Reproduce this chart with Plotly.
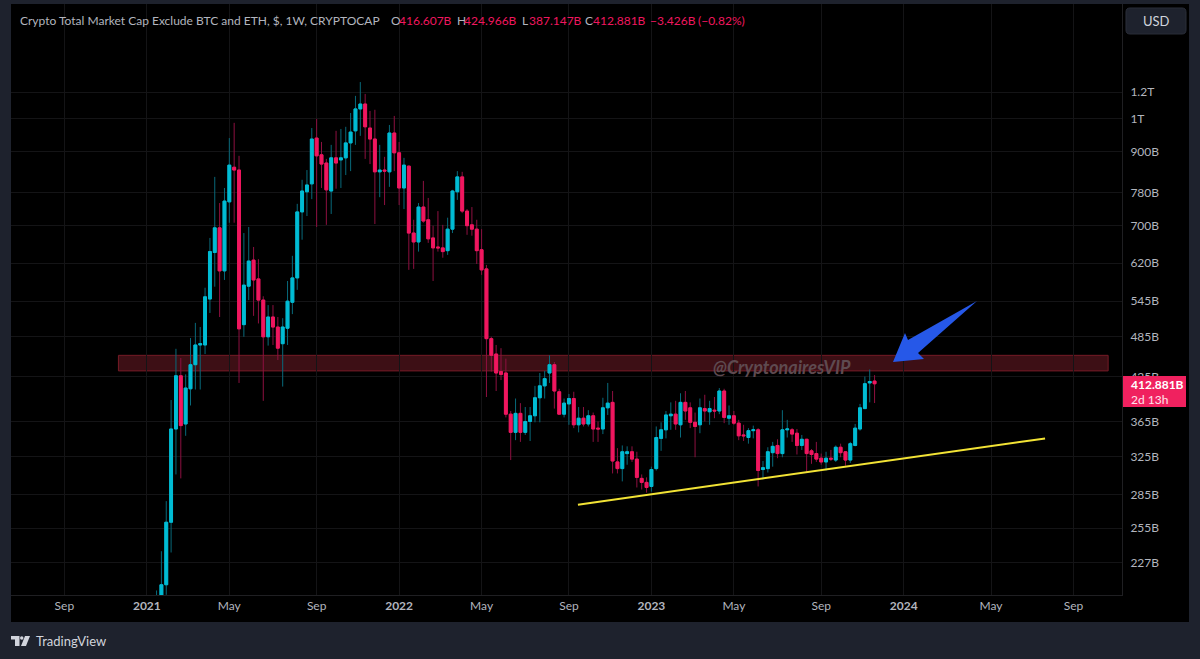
import pandas as pd
import plotly.graph_objects as go

# weekly candles, values in billions
open_b = [192,203,211,260,355,424,361,406,440,470,
          470,548,640,695,602,758,851,843,503,572,
          624,586,546,483,516,499,472,497,542,588,
          733,784,805,938,887,863,786,878,872,878,
          923,961,1034,1051,970,935,838,843,838,954,
          893,794,854,683,663,745,714,672,652,650,
          644,692,784,824,735,702,692,646,606,480,
          456,430,428,373,351,374,351,364,371,394,
          410,428,440,402,373,386,393,360,368,361,
          371,356,355,381,388,318,311,327,329,321,
          301,297,293,311,344,354,371,373,360,388,
          381,363,360,380,376,378,377,403,368,371,
          362,348,345,353,354,310,311,328,336,327,
          354,354,350,336,343,330,327,322,318,322,
          320,334,329,320,336,355,380,414,416.607]
close_b = [203,211,260,355,424,359,407,440,470,472,
           552,642,695,602,760,857,843,496,574,622,
           584,546,483,516,499,465,499,544,588,733,
           786,802,935,884,860,789,878,863,878,923,
           957,1034,1051,974,935,838,843,840,954,893,
           794,857,683,663,745,711,670,650,650,642,
           692,786,824,735,700,692,644,604,480,454,
           428,426,373,351,374,351,364,371,394,410,
           420,440,403,373,387,393,360,368,361,371,
           355,355,381,387,319,311,329,329,321,302,
           297,292,310,345,354,372,373,361,388,377,
           363,358,381,377,380,377,403,369,371,362,
           347,347,353,354,309,312,329,335,327,354,
           355,349,336,343,327,326,321,318,322,321,
           334,328,320,338,356,381,413,416,412.881]
high_b = [207,236,279,391,464,450,426,481,506,499,
          569,672,824,755,794,938,987,884,683,697,
          652,626,553,537,537,516,514,582,633,753,
          816,843,970,1000,926,875,917,961,967,974,
          1020,1080,1131,1087,1027,1031,917,881,980,1010,
          926,878,856,714,755,813,768,700,735,702,
          719,789,840,838,740,745,714,692,614,483,
          470,465,449,377,393,387,382,382,410,428,
          431,454,444,406,393,399,402,382,382,378,
          375,364,394,414,403,333,336,335,335,329,
          305,302,313,358,363,377,388,390,400,403,
          388,375,393,398,390,395,407,406,384,377,
          366,360,356,359,356,319,334,340,343,378,
          366,356,355,348,343.5,332,340,327,329,331,
          336,338,329.5,340,361,386,423,433,424.966]
low_b = [188,200,204,235,305,301,347,384,405,405,
         456,523,571,516,584,707,707,414,483,546,
         518,505,390,469,470,447,409,470,521,565,
         668,723,765,697,794,702,728,792,794,829,
         840,917,945,875,860,704,770,750,797,840,
         750,740,604,606,642,707,661,582,642,629,
         635,683,763,730,679,677,616,594,395,430,
         403,418,369,320,342,340,348,341,363,363,
         393,414,380,373,369,360,356,351,358,358,
         340,340,349,372,306,306,298,315,318,292,
         290,287,288,309,330,344,354,354,345,366,
         356,323,350,364,360,368,373,362,360,360,
         342,341,338,344,293,300,307,313,322,323,
         345,340,326,331,307,316,318,315,309,319,
         318,323,314,317,335,353,380,388,387.147]
dates = pd.date_range("2021-01-18", periods=len(open_b), freq="7D")

x_tick_dates = ["2020-09-07", "2021-01-04", "2021-05-03", "2021-09-06", "2022-01-03", "2022-05-02",
                "2022-09-05", "2023-01-02", "2023-05-01", "2023-09-04", "2024-01-01", "2024-05-06", "2024-09-02"]
x_tick_text = ["Sep", "<b>2021</b>", "May", "Sep", "<b>2022</b>", "May",
               "Sep", "<b>2023</b>", "May", "Sep", "<b>2024</b>", "May", "Sep"]
y_tick_vals = [1094, 1000, 896, 781, 700, 618, 544, 483, 423, 364, 324, 285, 255, 227]
y_tick_text = ["1.2T", "1T", "900B", "780B", "700B", "620B", "545B", "485B", "425B", "365B", "325B", "285B", "255B", "227B"]

CYAN = "#00bcd4"
RED = "#f0175f"
CYAN_DIM = "#08697a"
RED_DIM = "#8e1040"
PANEL = "#1e222d"
GRID = "#141416"
FONT = "Lato"
TEXT = "#b2b5be"

# plot rectangle in page pixels
L, R, T, B = 11, 1122, 4, 595
def px(x):
    return (x - L) / (R - L)
def py(y):
    return 1 - (y - T) / (B - T)

fig = go.Figure()
# wicks
fig.add_trace(go.Candlestick(
    x=dates, open=open_b, high=high_b, low=low_b, close=close_b,
    increasing=dict(line=dict(color=CYAN_DIM, width=1), fillcolor=CYAN_DIM),
    decreasing=dict(line=dict(color=RED_DIM, width=1), fillcolor=RED_DIM),
    whiskerwidth=0, hoverinfo="skip",
))
# bodies on top, no wick part
fig.add_trace(go.Candlestick(
    x=dates, open=open_b, close=close_b,
    high=[max(o, c) for o, c in zip(open_b, close_b)],
    low=[min(o, c) for o, c in zip(open_b, close_b)],
    increasing=dict(line=dict(color=CYAN, width=1), fillcolor=CYAN),
    decreasing=dict(line=dict(color=RED, width=1), fillcolor=RED),
    whiskerwidth=0,
))

shapes = [
    # black chart panel including the axis strips
    dict(type="rect", xref="paper", yref="paper", layer="below",
         x0=px(11), x1=px(1189), y0=py(622), y1=py(4), fillcolor="black", line_width=0),
    # resistance zone
    dict(type="rect", xref="x", yref="y", layer="below",
         x0="2020-11-24", x1="2024-10-22", y0=431, y1=454,
         fillcolor="#3d0f15", line=dict(color="#751b26", width=1)),
    # support trend line
    dict(type="line", xref="x", yref="y", x0="2022-09-18", y0=275.7, x1="2024-07-23", y1=344,
         line=dict(color="#f2e335", width=2)),
    # blue arrow
    dict(type="path", xref="paper", yref="paper", fillcolor="#2658e8", line_width=0,
         path="M %f %f L %f %f L %f %f L %f %f L %f %f L %f %f Z" % (
             px(977), py(301), px(908), py(340), px(905), py(333),
             px(893), py(362), px(924), py(359), px(918), py(353))),
    # last price tag
    dict(type="rect", xref="paper", yref="paper", x0=px(1123), x1=px(1186), y0=py(407), y1=py(376),
         fillcolor="#f0215f", line_width=0),
    # USD button
    dict(type="path", xref="paper", yref="paper", fillcolor=PANEL, line=dict(color="#2a2e39", width=1),
         path="M %f %f L %f %f Q %f %f %f %f L %f %f Q %f %f %f %f L %f %f Q %f %f %f %f L %f %f Q %f %f %f %f Z" % (
             px(1130), py(8), px(1182), py(8), px(1186), py(8), px(1186), py(12),
             px(1186), py(30), px(1186), py(34), px(1182), py(34),
             px(1130), py(34), px(1126), py(34), px(1126), py(30),
             px(1126), py(12), px(1126), py(8), px(1130), py(8))),
    # TradingView logo
    dict(type="path", xref="paper", yref="paper", fillcolor="#d1d4dc", line_width=0,
         path="M %f %f L %f %f L %f %f L %f %f L %f %f L %f %f Z" % (
             px(11), py(636), px(19.5), py(636), px(19.5), py(646), px(15), py(646), px(15), py(639.5), px(11), py(639.5))),
    dict(type="path", xref="paper", yref="paper", fillcolor="#d1d4dc", line_width=0,
         path="M %f %f L %f %f L %f %f L %f %f Z" % (
             px(25), py(636), px(30), py(636), px(26), py(646), px(21), py(646))),
    dict(type="circle", xref="paper", yref="paper", fillcolor="#d1d4dc", line_width=0,
         x0=px(20), x1=px(23.5), y0=py(639.8), y1=py(636.2)),
]

def note(x, y, text, color=TEXT, size=12, anchor="left", **kw):
    return dict(xref="paper", yref="paper", x=px(x), y=py(y), text=text, showarrow=False,
                xanchor=anchor, yanchor="middle", font=dict(family=FONT, size=size, color=color, **kw))

annotations = [
    note(18, 20, "Crypto Total Market Cap Exclude BTC and ETH, $, 1W, CRYPTOCAP"),
    note(389, 20, "O"), note(397, 20, "416.607B", RED),
    note(455, 20, "H"), note(462, 20, "424.966B", RED),
    note(520, 20, "L"), note(527, 20, "387.147B", RED),
    note(583, 20, "C"), note(591, 20, "412.881B", RED),
    note(648, 20, "−3.426B", RED), note(696, 20, "(−0.82%)", RED),
    note(1156, 21, "USD", "#d1d4dc", 13, "center"),
    note(782, 367, "<b><i>@CryptonairesVIP</i></b>", "#5e4a50", 18, "center"),
    note(1129, 384, "<b>412.881B</b>", "#ffffff", 12),
    note(1129, 399, "2d 13h", "#ffe3ec", 12),
    note(34, 641, "TradingView", "#d1d4dc", 13),
]

fig.update_layout(
    width=1200, height=659,
    margin=dict(l=L, r=1200 - R, t=T, b=659 - B),
    paper_bgcolor=PANEL, plot_bgcolor="black",
    showlegend=False, boxgap=0.15,
    shapes=shapes, annotations=annotations,
    font=dict(family=FONT, size=12, color=TEXT),
    xaxis=dict(
        type="date", range=["2020-06-22", "2024-11-11"], rangeslider_visible=False,
        tickmode="array", tickvals=x_tick_dates, ticktext=x_tick_text,
        showgrid=True, gridcolor=GRID, gridwidth=1, zeroline=False,
        showline=True, linecolor="#1f1f22", ticks="",
    ),
    yaxis=dict(
        type="log", side="right", range=[2.3094, 3.1667],
        tickmode="array", tickvals=y_tick_vals, ticktext=y_tick_text,
        showgrid=True, gridcolor=GRID, gridwidth=1, zeroline=False,
        showline=True, linecolor="#1f1f22", ticks="outside", ticklen=5, tickcolor="rgba(0,0,0,0)",
    ),
)

# page margin off so the figure sits at 0,0
fig.write_html("out.html", config={"displayModeBar": False},
               post_script="document.body.style.margin='0';document.body.style.background='#1e222d';")
